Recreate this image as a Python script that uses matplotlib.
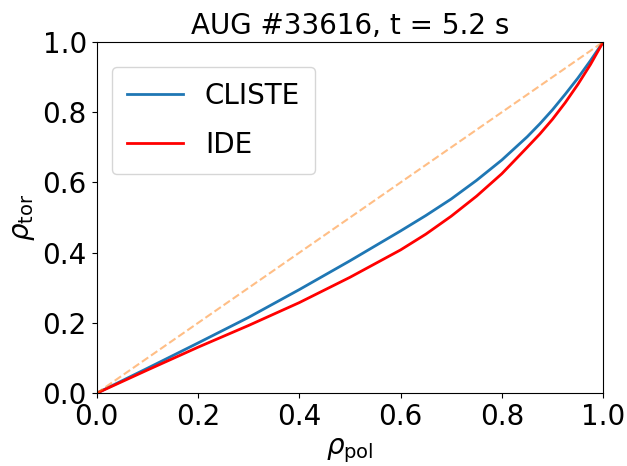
import matplotlib
matplotlib.use("Agg")
import matplotlib.pyplot as plt
import numpy as np

# rho_pol grid and rho_tor profiles
rho_pol = np.array([0.0, 0.1, 0.2, 0.3, 0.4, 0.5, 0.6, 0.65, 0.7, 0.75, 0.8,
                    0.85, 0.875, 0.9, 0.925, 0.95, 0.975, 1.0])
rho_tor_cliste = np.array([0.0, 0.071, 0.143, 0.216, 0.295, 0.377, 0.462, 0.506, 0.553, 0.606, 0.664,
                           0.73, 0.767, 0.807, 0.851, 0.897, 0.947, 1.0])
rho_tor_ide = np.array([0.0, 0.066, 0.131, 0.193, 0.258, 0.33, 0.408, 0.453, 0.504, 0.561, 0.625,
                        0.70, 0.738, 0.78, 0.827, 0.879, 0.936, 1.0])
diag = np.array([0.0, 1.0])

fs = 20

fig, ax = plt.subplots(figsize=(6.27, 4.66), dpi=100)
fig.subplots_adjust(left=0.154, right=0.962, bottom=0.156, top=0.910)

ax.plot(rho_pol, rho_tor_cliste, color="tab:blue", lw=2, label="CLISTE")
ax.plot(rho_pol, rho_tor_ide, color="red", lw=2, label="IDE")
ax.plot(diag, diag, color="tab:orange", alpha=0.5, ls="--", lw=1.5)

ax.set_xlim(0, 1)
ax.set_ylim(0, 1)
ax.set_xlabel(r"$\rho_{\rm pol}$", fontsize=fs)
ax.set_ylabel(r"$\rho_{\rm tor}$", fontsize=fs)
ax.set_title("AUG #33616, t = 5.2 s", fontsize=fs)
ax.tick_params(labelsize=fs)
ax.legend(fontsize=fs, loc="upper left", bbox_to_anchor=(0.03, 0.929),
          borderaxespad=0, labelspacing=0.75, borderpad=0.55)

fig.savefig("out.png", dpi=100)
